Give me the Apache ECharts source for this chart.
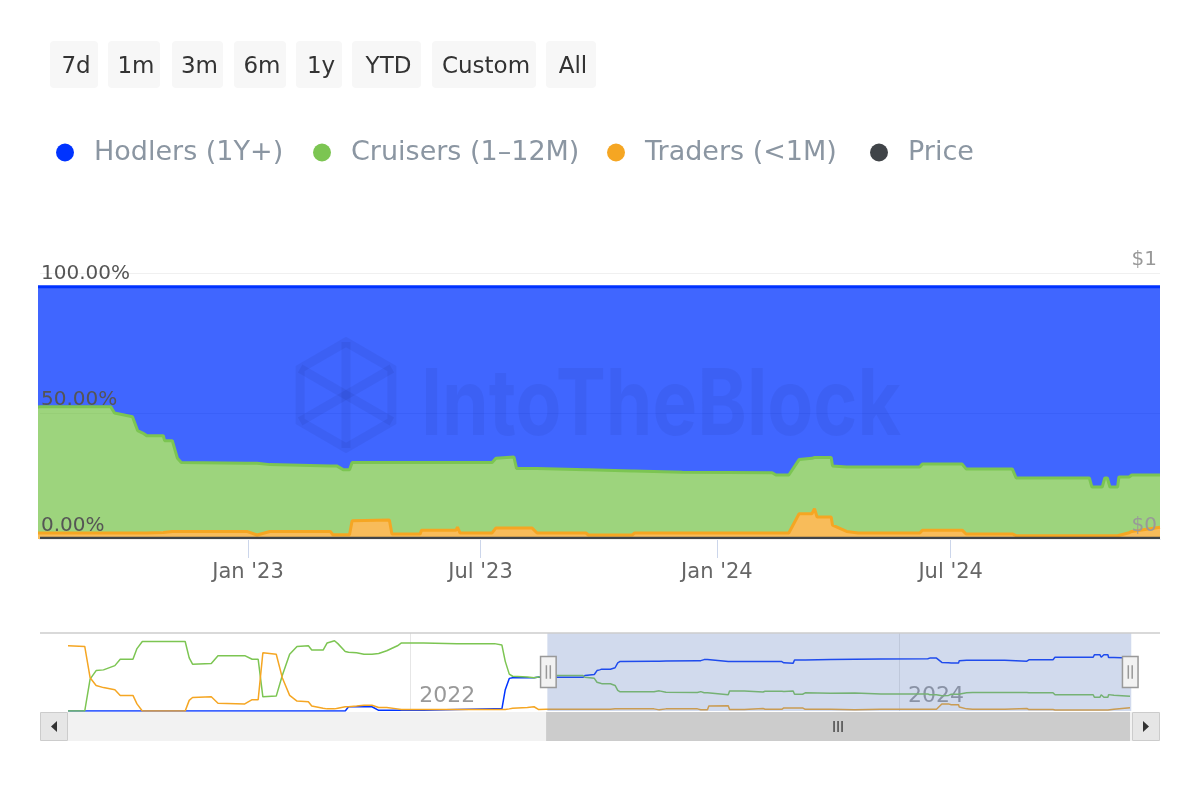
<!DOCTYPE html>
<html>
<head>
<meta charset="utf-8">
<script src="https://cdn.jsdelivr.net/npm/echarts@6/dist/echarts.min.js"></script>
<style>
html,body{margin:0;padding:0;background:#ffffff;}
#chart{width:1200px;height:800px;}
</style>
</head>
<body>
<div id="chart"></div>
<script>
// ---------------- DATA ----------------
const dates = [
  '2020-08-08','2020-09-02','2020-09-10','2020-09-19','2020-09-30','2020-10-17','2020-10-25','2020-11-13','2020-11-19','2020-11-27',
  '2021-01-30','2021-02-05','2021-02-10','2021-03-10','2021-03-20','2021-04-29','2021-05-10','2021-05-19','2021-05-26','2021-06-15',
  '2021-06-24','2021-07-05','2021-07-16','2021-08-02','2021-08-07','2021-08-24','2021-08-30','2021-09-10','2021-09-15','2021-09-26',
  '2021-10-01','2021-10-13','2021-10-24','2021-11-05','2021-11-15','2021-11-27','2021-12-13','2021-12-19','2022-01-21','2022-03-12',
  '2022-05-07','2022-05-18','2022-05-23','2022-05-29','2022-06-03','2022-06-25','2022-07-05','2022-07-12',
  '2022-07-23','2022-09-16','2022-09-19','2022-10-03','2022-10-07','2022-10-11','2022-10-14','2022-10-27','2022-10-28','2022-11-03',
  '2022-11-07','2022-11-10','2022-12-31','2023-01-08','2023-01-18','2023-03-06','2023-03-08','2023-03-11','2023-03-16','2023-03-21',
  '2023-03-23','2023-04-21','2023-04-23','2023-05-15','2023-05-16','2023-06-12','2023-06-13','2023-06-15','2023-07-10','2023-07-13',
  '2023-07-27','2023-07-29','2023-08-10','2023-08-14','2023-09-21','2023-09-23','2023-10-27','2023-10-29','2023-12-05','2024-02-13',
  '2024-02-16','2024-02-26','2024-03-05','2024-03-15','2024-03-17','2024-03-19','2024-03-30','2024-03-31','2024-04-11','2024-04-20',
  '2024-06-07','2024-06-09','2024-07-10','2024-07-13','2024-08-18','2024-08-21','2024-10-17','2024-10-19','2024-10-27','2024-10-29',
  '2024-10-31','2024-11-02','2024-11-08','2024-11-09','2024-11-17','2024-11-19','2024-12-11'
];
const hodlers = [
  0,0,0,0,0,0,0,0,0,0,
  0,0,0,0,0,0,0,0,0,0,
  0,0,0,0,0,0,0,0,0,0,
  6,6,6,6,1,1,1,1,1,2,
  3,3,30,46,47,47,47,48,
  47.5,47.5,50,51.5,57,58,59,59,61,61,
  68,69.7,70,70,70.5,71,71,71,72.5,72.5,
  69.7,69.7,69.7,69.7,69.7,69.7,69.7,69.7,69.7,68,
  67.5,72,72,72,72.5,72.5,73,73,73.5,73.7,
  74.6,74.6,68.5,68,67.7,67.7,67.7,71,71.4,71.4,
  71.4,70.3,70.3,72.2,72.2,75.8,75.8,79.4,79.4,75.8,
  75.8,79.4,79.4,75.4,75.4,74.6,74.6
];
const cruisers = [
  0,0,45,57,58,64,73,73,88,98,
  98,75,66,67,78,78,73,73,20,21,
  50,80,91,92,86,86,96,99,95,84,
  83,82,80,80,81,85,92,96,96,95,
  95,93,70,52,49,48,47,48,
  50.1,50.1,47.6,46.1,40.6,39.6,38.6,38.4,36,36,
  29,27.3,27,28.4,26.5,26,27.3,27.3,25.8,25.8,
  23.1,22.8,28.3,28.3,26.8,26.8,25.6,27.9,27.9,27.6,
  28.1,23.6,23.6,25.6,25.1,25.9,25.4,24.6,24.1,23.9,
  23,23,21.5,22,20.3,23.6,23.6,23.5,25.6,26.2,
  26.2,26.2,26.2,25.8,25.8,22.9,22.9,19.3,19.3,22.9,
  22.9,19.3,19.3,23.1,22.1,22.4,20.7
];
const traders = [
  92,91,47,36,33,30,22,22,10,0,
  0,15,19,20,11,10,16,16,82,80,
  47,22,14,13,7,4,3,3,4,6,
  6,7,8,8,5,5,3,2,2,2,
  2,2,2,3,4,5,6,2,
  2.4,2.4,2.4,2.4,2.4,2.4,2.4,2.6,3,3,
  3,3,3,1.6,3,3,1.7,1.7,1.7,1.7,
  7.2,7.5,2,2,3.5,3.5,4.7,2.4,2.4,4.4,
  4.4,4.4,4.4,2.4,2.4,1.6,1.6,2.4,2.4,2.4,
  2.4,2.4,10,10,12,8.7,8.7,5.5,3,2.4,
  2.4,3.5,3.5,2,2,1.3,1.3,1.3,1.3,1.3,
  1.3,1.3,1.3,1.5,2.5,3,4.7
];
const priceDates = ['2022-07-23','2023-01-01','2023-07-01','2024-01-01','2024-07-01','2024-12-11'];
const priceValues = [0.004,0.004,0.004,0.004,0.004,0.004];

const seriesNames = ['Hodlers (1Y+)','Cruisers (1\u201312M)','Traders (<1M)','Price'];
const rangeButtons = ['7d','1m','3m','6m','1y','YTD','Custom','All'];
const xTickDates = ['2023-01-01','2023-07-01','2024-01-01','2024-07-01'];
const navTickDates = ['2022-01-01','2024-01-01'];
const viewStart = '2022-07-23';
const viewEnd = '2024-12-11';
const monthNames = ['Jan','Feb','Mar','Apr','May','Jun','Jul','Aug','Sep','Oct','Nov','Dec'];
const watermarkText = 'IntoTheBlock';

// ---------------- STYLE / LAYOUT ----------------
const FONT = 'DejaVu Sans';
const COLORS = {hodlers:'#0033ff', cruisers:'#7cc552', traders:'#f5a623', price:'#404448'};
const btnLayout = {lefts:[50,108,172,234,296,352,432,546], widths:[48,52,51,52,46,69,104,50], top:41, height:47};
const legendLefts = [56,313,607,870];

const ts = s => { const p = s.split('-').map(Number); return new Date(p[0], p[1]-1, p[2]).getTime(); };
const share = arr => arr.map((v,i) => {
  const s = hodlers[i] + cruisers[i] + traders[i];
  return [ts(dates[i]), s ? v / s * 100 : 0];
});
const raw = arr => arr.map((v,i) => [ts(dates[i]), v]);

const chart = echarts.init(document.getElementById('chart'), null, {renderer:'canvas'});

function areaSeries(name, arr, color, z) {
  return {
    name, type:'line', stack:'share', xAxisIndex:0, yAxisIndex:0,
    data: share(arr), showSymbol:false, symbol:'none', z,
    lineStyle:{width:3, color}, itemStyle:{color},
    areaStyle:{color, opacity:0.75}, emphasis:{disabled:true}
  };
}
function navSeries(name, arr, color) {
  return {
    name, type:'line', xAxisIndex:1, yAxisIndex:3, data: raw(arr),
    showSymbol:false, symbol:'none', lineStyle:{width:1.5, color}, itemStyle:{color},
    emphasis:{disabled:true}, z:1
  };
}

const graphics = [];
rangeButtons.forEach((b,i) => {
  graphics.push({
    type:'group', left:btnLayout.lefts[i], top:btnLayout.top, z:100,
    children:[
      {type:'rect', shape:{x:0,y:0,width:btnLayout.widths[i],height:btnLayout.height,r:4}, style:{fill:'#f7f7f7'}},
      {type:'text', x:btnLayout.widths[i]/2 + 2, y:btnLayout.height/2 + 3,
       style:{text:b, fill:'#333333', font:'23px "DejaVu Sans"', align:'center', verticalAlign:'middle'}}
    ]
  });
});

// watermark
const mctx = document.createElement('canvas').getContext('2d');
mctx.font = 'bold 92px Inter';
const wmW = mctx.measureText(watermarkText).width || 480;
const wmFill = 'rgba(0,0,50,0.055)';
graphics.push({type:'text', x:421, y:407, scaleX:480/wmW, z:50, silent:true,
  style:{text:watermarkText, font:'bold 92px Inter', fill:wmFill, align:'left', verticalAlign:'middle'}});
(function(){
  const cx = 346, cy = 395, r = 53, w = r*Math.sqrt(3)/2;
  const pts = [[cx,cy-r],[cx+w,cy-r/2],[cx+w,cy+r/2],[cx,cy+r],[cx-w,cy+r/2],[cx-w,cy-r/2]];
  graphics.push({type:'polygon', z:50, silent:true, shape:{points:pts}, style:{fill:'none', stroke:wmFill, lineWidth:9}});
  graphics.push({type:'polyline', z:50, silent:true, shape:{points:[[cx,cy-r],[cx,cy+r]]}, style:{stroke:wmFill, lineWidth:9}});
  graphics.push({type:'polyline', z:50, silent:true, shape:{points:[[cx-w,cy-r/2],[cx,cy],[cx-w,cy+r/2]]}, style:{stroke:wmFill, lineWidth:9, fill:'none'}});
  graphics.push({type:'polyline', z:50, silent:true, shape:{points:[[cx+w,cy-r/2],[cx,cy],[cx+w,cy+r/2]]}, style:{stroke:wmFill, lineWidth:9, fill:'none'}});
})();

// navigator top outline
graphics.push({type:'line', z:60, shape:{x1:40,y1:633,x2:1160,y2:633}, style:{stroke:'#cccccc', lineWidth:1.5}});

const fmtMonth = v => { const d = new Date(v); return monthNames[d.getMonth()] + " '" + String(d.getFullYear()).slice(2); };
const fmtYear = v => String(new Date(v).getFullYear());

const option = {
  animation:false,
  backgroundColor:'#ffffff',
  textStyle:{fontFamily:FONT},
  legend: seriesNames.map((n,i) => ({
    data:[n], left:legendLefts[i], top:139, padding:0, icon:'circle', itemWidth:18, itemHeight:18,
    selectedMode:false, textStyle:{fontSize:27, color:'#8b96a2', fontFamily:FONT, padding:[0,0,0,15]}
  })),
  grid:[
    {left:40, right:40, top:273, height:266},
    {left:68, right:70, top:633, height:78}
  ],
  xAxis:[
    // data axis of the main chart (time, driven by the navigator)
    {type:'time', gridIndex:0, position:'bottom', show:false, splitLine:{show:false}},
    // navigator axis
    {type:'value', gridIndex:1, position:'bottom', min:'dataMin', max:'dataMax',
     axisLine:{show:false, onZero:false},
     axisTick:{show:true, inside:true, customValues:navTickDates.map(ts), length:78, lineStyle:{color:'#e6e6e6', width:1}},
     axisLabel:{show:true, inside:true, customValues:navTickDates.map(ts), color:'#999999', fontSize:22,
       align:'left', verticalAlign:'bottom', margin:4, padding:[0,0,0,9], formatter: fmtYear},
     splitLine:{show:false}},
    // visible date ticks of the main chart, same range as the zoom window
    {type:'value', gridIndex:0, position:'bottom', offset:0, min:ts(viewStart), max:ts(viewEnd),
     axisLine:{show:true, onZero:false, lineStyle:{color:'#ccd6eb', width:1}},
     axisTick:{show:true, customValues:xTickDates.map(ts), length:19, lineStyle:{color:'#ccd6eb', width:1}},
     axisLabel:{show:true, customValues:xTickDates.map(ts), color:'#666666', fontSize:21, margin:23, formatter: fmtMonth},
     splitLine:{show:false}}
  ],
  yAxis:[
    {type:'value', gridIndex:0, min:0, max:105.5, interval:50, axisLabel:{show:false}, axisLine:{show:false}, axisTick:{show:false},
     splitLine:{show:true, lineStyle:{color:'#e6e6e6', width:1}}},
    {type:'value', gridIndex:0, position:'left', min:0, max:105.5, interval:50, z:10,
     axisLine:{show:false}, axisTick:{show:false}, splitLine:{show:false},
     axisLabel:{inside:true, margin:1, color:'#555555', fontSize:20, verticalAlign:'bottom', padding:[0,0,3,0],
       formatter: v => (v % 50 === 0 ? v.toFixed(2) + '%' : '')}},
    {type:'value', gridIndex:0, position:'right', min:0, max:1, interval:1, z:10,
     axisLine:{show:false}, axisTick:{show:false},
     splitLine:{show:true, lineStyle:{color:'#f0f0f0', width:1}},
     axisLabel:{inside:true, margin:3, color:'#999999', fontSize:20, verticalAlign:'bottom', padding:[0,0,3,0],
       formatter: v => '$' + v}},
    {type:'value', gridIndex:1, min:0, max:110, show:false}
  ],
  dataZoom:[{
    type:'slider', xAxisIndex:[0], filterMode:'none',
    startValue:ts(viewStart), endValue:ts(viewEnd),
    left:68, right:70, top:633, height:78,
    showDataShadow:false, showDetail:false, brushSelect:false,
    backgroundColor:'rgba(0,0,0,0)', borderColor:'rgba(0,0,0,0)',
    fillerColor:'rgba(102,133,194,0.3)',
    handleIcon:'path://M0,0 L16,0 L16,32 L0,32 Z M6,9 L6,23 M10,9 L10,23',
    handleSize:'40%',
    handleStyle:{color:'#f2f2f2', borderColor:'#999999', borderWidth:1.5},
    moveHandleSize:0, moveHandleStyle:{opacity:0},
    emphasis:{handleStyle:{color:'#f2f2f2', borderColor:'#999999'}, moveHandleStyle:{opacity:0}},
    z:5
  }],
  series:[
    areaSeries(seriesNames[2], traders, COLORS.traders, 4),
    areaSeries(seriesNames[1], cruisers, COLORS.cruisers, 3),
    areaSeries(seriesNames[0], hodlers, COLORS.hodlers, 2),
    {name:seriesNames[3], type:'line', xAxisIndex:0, yAxisIndex:2,
     data: priceDates.map((d,i) => [ts(d), priceValues[i]]), showSymbol:false, symbol:'none', z:5,
     lineStyle:{width:2.5, color:COLORS.price}, itemStyle:{color:COLORS.price}},
    navSeries('navH', hodlers, COLORS.hodlers),
    navSeries('navC', cruisers, COLORS.cruisers),
    navSeries('navT', traders, COLORS.traders)
  ],
  graphic: graphics
};
chart.setOption(option);

// scrollbar, positioned from the navigator axis scale
const xs = chart.convertToPixel({xAxisIndex:1}, ts(viewStart));
const xe = chart.convertToPixel({xAxisIndex:1}, ts(viewEnd));
const sbTop = 712, sbH = 29;
const mid = (xs + xe) / 2;
const sb = [
  {type:'rect', z:60, shape:{x:68, y:sbTop, width:1064, height:sbH}, style:{fill:'#f2f2f2'}},
  {type:'rect', z:61, shape:{x:xs, y:sbTop, width:xe - xs, height:sbH}, style:{fill:'#cccccc'}},
  {type:'rect', z:62, shape:{x:40.5, y:sbTop+0.5, width:27, height:sbH-1}, style:{fill:'#e6e6e6', stroke:'#cccccc', lineWidth:1}},
  {type:'polygon', z:63, shape:{points:[[57,sbTop+9],[57,sbTop+20],[51,sbTop+14.5]]}, style:{fill:'#333333'}},
  {type:'rect', z:62, shape:{x:1132.5, y:sbTop+0.5, width:27, height:sbH-1}, style:{fill:'#e6e6e6', stroke:'#cccccc', lineWidth:1}},
  {type:'polygon', z:63, shape:{points:[[1143,sbTop+9],[1143,sbTop+20],[1149,sbTop+14.5]]}, style:{fill:'#333333'}}
];
[-4,0,4].forEach(d => sb.push({type:'line', z:63, shape:{x1:mid+d, y1:sbTop+9, x2:mid+d, y2:sbTop+20}, style:{stroke:'#333333', lineWidth:1.3}}));
chart.setOption({graphic: graphics.concat(sb)});
</script>
</body>
</html>
